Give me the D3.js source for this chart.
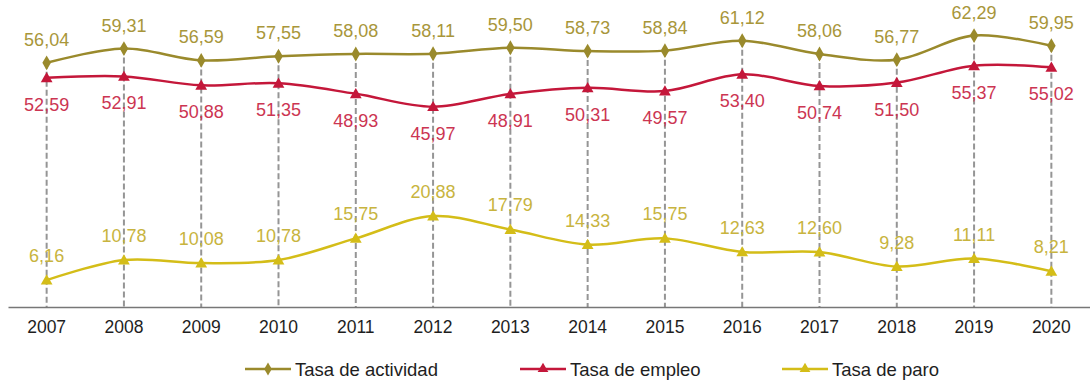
<!DOCTYPE html>
<html>
<head>
<meta charset="utf-8">
<script src="https://cdn.jsdelivr.net/npm/d3@7"></script>
<style>
  html, body { margin: 0; padding: 0; background: #fff; }
  svg { display: block; font-family: "Liberation Sans", Arial, sans-serif; }
</style>
</head>
<body>
<svg id="chart" width="1090" height="383"></svg>
<script>
// Years and rates (%)
const years = ["2007","2008","2009","2010","2011","2012","2013","2014","2015","2016","2017","2018","2019","2020"];
const actividad = [56.04, 59.31, 56.59, 57.55, 58.08, 58.11, 59.50, 58.73, 58.84, 61.12, 58.06, 56.77, 62.29, 59.95];
const empleo    = [52.59, 52.91, 50.88, 51.35, 48.93, 45.97, 48.91, 50.31, 49.57, 53.40, 50.74, 51.50, 55.37, 55.02];
const paro      = [6.16, 10.78, 10.08, 10.78, 15.75, 20.88, 17.79, 14.33, 15.75, 12.63, 12.60, 9.28, 11.11, 8.21];
const seriesNames = ["Tasa de actividad", "Tasa de empleo", "Tasa de paro"];

const svg = d3.select("#chart");
const fmt = v => v.toFixed(2).replace(".", ",");

const x = d3.scaleBand().domain(years).range([8, 1090]);
const xc = d => x(d) + x.bandwidth() / 2;
const y = d3.scaleLinear().domain([0, 70]).range([307, 2]);

const series = [
  { name: seriesNames[0], values: actividad, line: "#9a8a2c", label: "#a8963a", marker: "diamond", labelDy: -17 },
  { name: seriesNames[1], values: empleo,    line: "#c4173a", label: "#cc3552", marker: "triangle", labelDy: 33 },
  { name: seriesNames[2], values: paro,      line: "#d4bd18", label: "#c8b43e", marker: "triangle", labelDy: -18 }
];

// Drop lines from the highest point of each year down to the axis
const tops = years.map((yr, i) => Math.max(actividad[i], empleo[i], paro[i]));
svg.append("g").selectAll("line").data(years).join("line")
  .attr("x1", d => xc(d)).attr("x2", d => xc(d))
  .attr("y1", (d, i) => y(tops[i])).attr("y2", y(0))
  .attr("stroke", "#959595").attr("stroke-width", 2)
  .attr("stroke-dasharray", "6,3");

// Category axis
const xAxis = svg.append("g").attr("transform", `translate(0,${y(0)})`)
  .call(d3.axisBottom(x).tickSize(0).tickPadding(14));
xAxis.select(".domain").attr("stroke", "#777").attr("stroke-width", 1.5);
xAxis.selectAll("text").attr("font-size", 17.5).attr("fill", "#1e1e1e")
  .attr("font-family", "'Liberation Sans', Arial, sans-serif");

const symbolFor = (kind, size) => d3.symbol()
  .type(kind === "diamond" ? d3.symbolDiamond : d3.symbolTriangle).size(size)();

const lineGen = d3.line().curve(d3.curveCatmullRom.alpha(0.5));

series.forEach(s => {
  const pts = s.values.map((v, i) => [xc(years[i]), y(v)]);
  const g = svg.append("g");
  g.append("path").attr("d", lineGen(pts))
    .attr("fill", "none").attr("stroke", s.line).attr("stroke-width", 2.5);
  g.selectAll("path.m").data(s.values).join("path").attr("class", "m")
    .attr("d", symbolFor(s.marker, s.marker === "diamond" ? 64 : 60))
    .attr("transform", (v, i) => `translate(${xc(years[i])},${y(v) + (s.marker === "triangle" ? 1 : 0)})`)
    .attr("fill", s.line);
  g.selectAll("text").data(s.values).join("text")
    .attr("x", (v, i) => xc(years[i]))
    .attr("y", v => y(v) + s.labelDy)
    .attr("text-anchor", "middle")
    .attr("font-size", 18)
    .attr("fill", s.label)
    .text(fmt);
});

// Legend
const legendX = [245, 520, 782];
const legend = svg.append("g");
series.forEach((s, i) => {
  const lg = legend.append("g").attr("transform", `translate(${legendX[i]},369)`);
  lg.append("line").attr("x1", 0).attr("x2", 46).attr("y1", 0).attr("y2", 0)
    .attr("stroke", s.line).attr("stroke-width", 2.5);
  lg.append("path").attr("d", symbolFor(s.marker, 50))
    .attr("transform", "translate(23,0)").attr("fill", s.line);
  lg.append("text").attr("x", 50).attr("y", 6.5)
    .attr("font-size", 18.5).attr("fill", "#1e1e1e")
    .text(s.name);
});
</script>
</body>
</html>
